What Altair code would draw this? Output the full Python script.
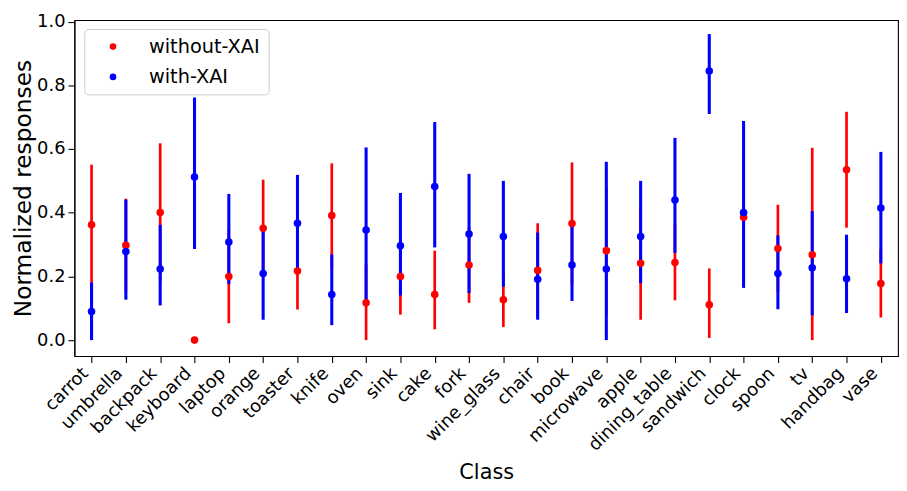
import altair as alt
import pandas as pd

classes = ["carrot", "umbrella", "backpack", "keyboard", "laptop", "orange", "toaster",
           "knife", "oven", "sink", "cake", "fork", "wine_glass", "chair", "book",
           "microwave", "apple", "dining_table", "sandwich", "clock", "spoon", "tv",
           "handbag", "vase"]

without_mean = [0.362, 0.298, 0.401, 0.000, 0.200, 0.351, 0.217, 0.391, 0.117, 0.200, 0.143, 0.236,
                0.127, 0.219, 0.366, 0.281, 0.241, 0.244, 0.111, 0.386, 0.288, 0.268, 0.535, 0.178]
without_lo = [0.173, 0.152, 0.184, 0.000, 0.053, 0.198, 0.096, 0.227, 0.000, 0.080, 0.034, 0.117,
              0.041, 0.071, 0.174, 0.080, 0.064, 0.125, 0.007, 0.200, 0.151, 0.000, 0.353, 0.071]
without_hi = [0.551, 0.444, 0.618, 0.000, 0.347, 0.504, 0.338, 0.555, 0.237, 0.320, 0.281, 0.355,
              0.213, 0.367, 0.558, 0.480, 0.418, 0.363, 0.225, 0.570, 0.425, 0.604, 0.717, 0.285]

with_mean = [0.090, 0.278, 0.223, 0.512, 0.308, 0.209, 0.367, 0.143, 0.346, 0.296, 0.482, 0.333,
             0.325, 0.191, 0.236, 0.223, 0.325, 0.440, 0.845, 0.401, 0.209, 0.227, 0.193, 0.415]
with_lo = [0.000, 0.127, 0.109, 0.286, 0.176, 0.064, 0.215, 0.047, 0.120, 0.140, 0.291, 0.148,
           0.168, 0.064, 0.123, 0.000, 0.179, 0.274, 0.710, 0.164, 0.097, 0.078, 0.085, 0.241]
with_hi = [0.181, 0.441, 0.362, 0.762, 0.459, 0.354, 0.519, 0.269, 0.605, 0.462, 0.685, 0.522,
           0.500, 0.338, 0.357, 0.560, 0.500, 0.635, 0.961, 0.688, 0.329, 0.405, 0.331, 0.591]

groups = ["without-XAI", "with-XAI"]
colors = ["#ff0000", "#0000ff"]

rows = []
for g, m, lo, hi in [(groups[0], without_mean, without_lo, without_hi),
                     (groups[1], with_mean, with_lo, with_hi)]:
    for i, c in enumerate(classes):
        rows.append({"Class": c, "group": g, "mean": m[i], "lo": lo[i], "hi": hi[i]})
df = pd.DataFrame(rows)

FONT = "DejaVu Sans"

xenc = alt.X("Class:N", sort=classes,
             scale=alt.Scale(type="point", padding=0.5),
             axis=alt.Axis(title="Class", labelAngle=-45, labelAlign="right",
                           labelBaseline="bottom", labelPadding=14.5,
                           titlePadding=8, titleFontSize=21))
yscale = alt.Scale(domain=[-0.05, 1.005], nice=False, zero=False)
legend = alt.Legend(title=None, orient="none", legendX=10, legendY=9,
                    symbolType="circle", symbolSize=45,
                    symbolStrokeWidth=0, symbolOffset=11.2,
                    labelOffset=26.5, padding=8, rowPadding=9.6,
                    strokeColor="#cccccc", cornerRadius=4,
                    fillColor="rgba(255,255,255,0.8)",
                    labelFontSize=19.5, labelFont=FONT,
                    labelColor="black")
color = alt.Color("group:N", scale=alt.Scale(domain=groups, range=colors), legend=legend)
yaxis = alt.Axis(title="Normalized responses", values=[0, 0.2, 0.4, 0.6, 0.8, 1.0],
                 format=".1f", titlePadding=1, titleFontSize=23.5, labelPadding=3)

base = alt.Chart(df)


def rule_layer(g, w):
    return base.transform_filter(alt.datum.group == g).mark_rule(strokeWidth=w).encode(
        x=xenc,
        y=alt.Y("lo:Q", scale=yscale, axis=yaxis),
        y2="hi:Q",
        color=color,
    )


def point_layer(g):
    return base.transform_filter(alt.datum.group == g).mark_circle(size=58, opacity=1).encode(
        x=xenc,
        y=alt.Y("mean:Q", scale=yscale, axis=yaxis),
        color=color,
    )


chart = alt.layer(
    rule_layer(groups[0], 2.7),
    rule_layer(groups[1], 3.1),
    point_layer(groups[0]),
    point_layer(groups[1]),
).properties(
    width=831, height=339,
    autosize=alt.AutoSizeParams(type="none"),
    padding={"left": 67, "top": 10, "right": 1, "bottom": 134},
).configure_view(
    stroke="black", strokeWidth=1.1
).configure_axis(
    labelFont=FONT, titleFont=FONT, labelFontSize=18, titleFontSize=21,
    titleFontWeight="normal", labelColor="black", titleColor="black",
    domainColor="black", tickColor="black", tickSize=6.5, tickWidth=1.1,
    domainWidth=1.1, grid=False, labelPadding=5
)

chart.save("out.html", embed_options={"renderer": "svg", "actions": False})
